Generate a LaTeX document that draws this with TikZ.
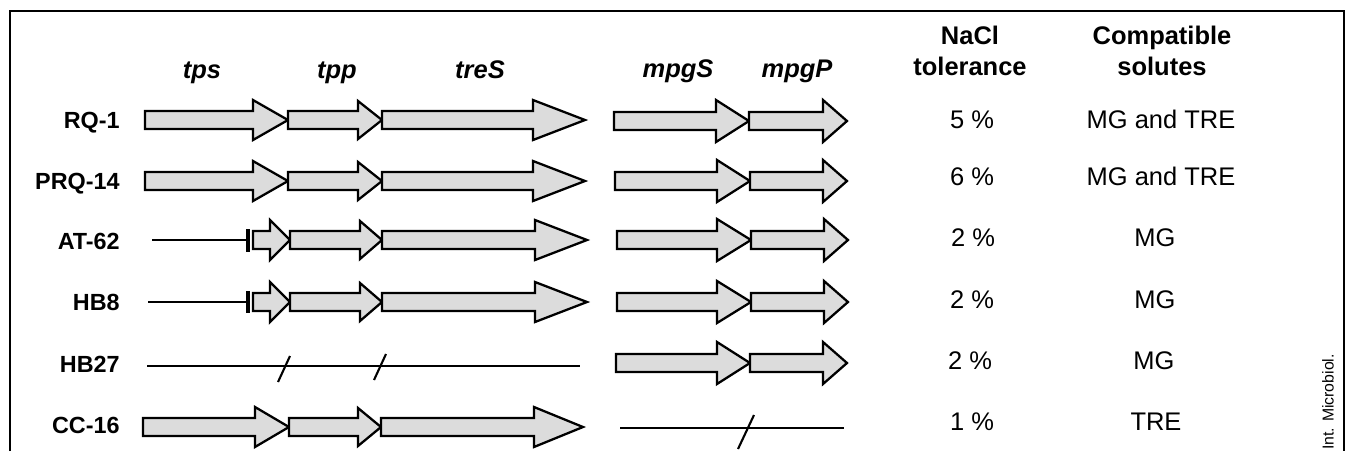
\documentclass[tikz,border=0pt]{standalone}
\usepackage{fontspec}
\setmainfont{Liberation Sans}
\usetikzlibrary{positioning}

\definecolor{genegray}{RGB}{220,220,220}

% gene arrow: start x, head base x, tip x, row y, head half width
\newcommand{\gene}[5]{%
  \draw[genebox] (#1,#4-9) -- (#2,#4-9) -- (#2,#4-#5) -- (#3,#4)
    -- (#2,#4+#5) -- (#2,#4+9) -- (#1,#4+9) -- cycle;}

\tikzset{
  genebox/.style={draw=black, fill=genegray, line width=1.3pt, line join=miter},
  strain/.style={font=\fontsize{13.3}{16}\selectfont\bfseries, anchor=base east, inner sep=0pt},
  genename/.style={font=\fontsize{14.5}{17}\selectfont\bfseries\itshape, anchor=base, inner sep=0pt},
  colhead/.style={font=\fontsize{14.5}{17.6}\selectfont\bfseries, align=center, anchor=north, inner sep=0pt},
  value/.style={font=\fontsize{14.5}{17}\selectfont, anchor=base, inner sep=0pt},
  locus/.style={line width=1pt},
  breakmark/.style={line width=1.2pt},
  trunc/.style={line width=2pt},
  frameline/.style={line width=0.8pt}
}

\begin{document}
\begin{tikzpicture}[x=0.02cm, y=-0.02cm]
  \useasboundingbox (0,0) rectangle (1346,451);

  % frame
  \draw[frameline] (10,451) -- (10,11) -- (1344,11) -- (1344,451);

  % column headers
  \node[genename] (tps) at (202,78) {tps};
  \node[genename] (tpp) at (337,78) {tpp};
  \node[genename] (treS) at (480,78) {treS};
  \node[genename] (mpgS) at (678,77) {mpgS};
  \node[genename] (mpgP) at (797,77) {mpgP};
  \node[colhead] (nacl) at (970,26) {NaCl\\tolerance};
  \node[colhead] (solutes) at (1162,26) {Compatible\\solutes};

  % strains
  \node[strain] (rq1) at (120,128) {RQ-1};
  \node[strain] (prq14) at (120,189) {PRQ-14};
  \node[strain] (at62) at (120,249) {AT-62};
  \node[strain] (hb8) at (120,310) {HB8};
  \node[strain] (hb27) at (120,372) {HB27};
  \node[strain] (cc16) at (120,433) {CC-16};

  % RQ-1
  \gene{145}{253}{288}{120}{20}
  \gene{288}{358}{382}{120}{19}
  \gene{382}{533}{585}{120}{20}
  \gene{614}{716}{749}{121}{21}
  \gene{749}{823}{847}{121}{21}

  % PRQ-14
  \gene{145}{253}{288}{181}{20}
  \gene{288}{358}{382}{181}{19}
  \gene{382}{533}{585}{181}{20}
  \gene{615}{717}{750}{181}{21}
  \gene{750}{823}{847}{181}{21}

  % AT-62
  \coordinate (at62a) at (152,240);
  \coordinate (at62b) at (248,240);
  \draw[locus] (at62a) -- (at62b);
  \draw[trunc] (248,229) -- (248,252);
  \gene{253}{270}{290}{240}{20}
  \gene{290}{360}{382}{240}{19}
  \gene{382}{535}{587}{240}{20}
  \gene{617}{717}{751}{240}{21}
  \gene{751}{824}{848}{240}{21}

  % HB8
  \coordinate (hb8a) at (148,302);
  \coordinate (hb8b) at (248,302);
  \draw[locus, line width=1.4pt] (hb8a) -- (hb8b);
  \draw[trunc] (248,291) -- (248,313);
  \gene{253}{270}{290}{302}{20}
  \gene{290}{360}{382}{302}{19}
  \gene{382}{535}{587}{302}{20}
  \gene{617}{717}{751}{302}{21}
  \gene{751}{824}{848}{302}{21}

  % HB27
  \coordinate (hb27a) at (147,366);
  \coordinate (hb27b) at (580,366);
  \draw[locus] (hb27a) -- (hb27b);
  \draw[breakmark] (278,382) -- (290,356);
  \draw[breakmark] (374,380) -- (386,354);
  \gene{616}{717}{750}{363}{21}
  \gene{750}{823}{847}{363}{21}

  % CC-16
  \gene{143}{255}{289}{427}{20}
  \gene{289}{358}{381}{427}{19}
  \gene{381}{534}{583}{427}{20}
  \coordinate (cc16a) at (620,428);
  \coordinate (cc16b) at (844,428);
  \draw[locus] (cc16a) -- (cc16b);
  \draw[breakmark] (738,449) -- (754,415);

  % NaCl tolerance
  \node[value] (t1) at (972,128) {5 \%};
  \node[value] (t2) at (972,185) {6 \%};
  \node[value] (t3) at (973,246) {2 \%};
  \node[value] (t4) at (972,308) {2 \%};
  \node[value] (t5) at (970,369) {2 \%};
  \node[value] (t6) at (972,430) {1 \%};

  % compatible solutes
  \node[value] (s1) at (1161,128) {MG and TRE};
  \node[value] (s2) at (1161,185) {MG and TRE};
  \node[value] (s3) at (1155,246) {MG};
  \node[value] (s4) at (1155,308) {MG};
  \node[value] (s5) at (1154,369) {MG};
  \node[value] (s6) at (1156,430) {TRE};

  % source
  \node[font=\fontsize{9}{10}\selectfont, rotate=90, inner sep=0pt] (src) at (1328,402) {Int. Microbiol.};
\end{tikzpicture}
\end{document}
